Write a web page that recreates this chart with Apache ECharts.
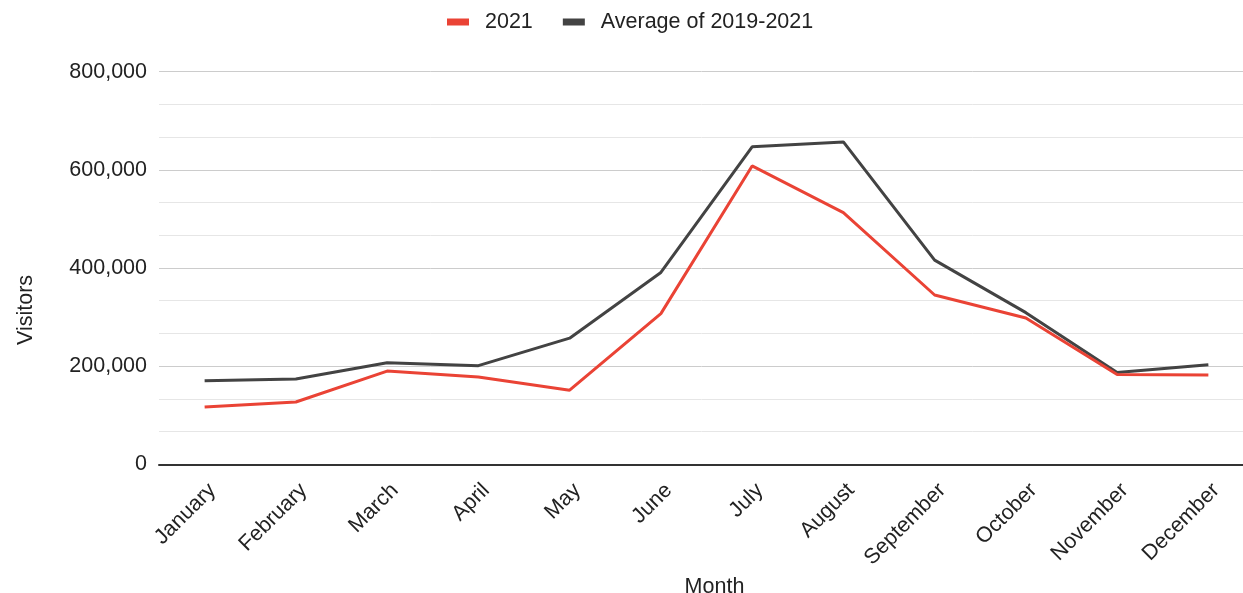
<!DOCTYPE html>
<html>
<head>
<meta charset="utf-8">
<script src="https://cdn.jsdelivr.net/npm/echarts@6/dist/echarts.min.js"></script>
<style>
  html, body { margin: 0; padding: 0; background: #fff; }
  #chart { width: 1243px; height: 593px; }
</style>
</head>
<body>
<div id="chart"></div>
<script>
// Monthly visitor counts
const months = ['January', 'February', 'March', 'April', 'May', 'June',
  'July', 'August', 'September', 'October', 'November', 'December'];
const visitors2021 = [117000, 127000, 190000, 178000, 151000, 307000,
  608000, 513000, 345000, 298000, 183000, 182000];
const visitorsAvg = [170000, 174000, 207000, 201000, 257000, 391000,
  647000, 657000, 416000, 309000, 187000, 203000];
const seriesNames = ['2021', 'Average of 2019-2021'];
const yTicks = { min: 0, max: 800000, interval: 200000 };

const FONT = 'Liberation Sans, Arial, sans-serif';
const FS = 21.5;

const chart = echarts.init(document.getElementById('chart'), null, { renderer: 'canvas' });

chart.setOption({
  animation: false,
  color: ['#ea4335', '#434343'],
  textStyle: { fontFamily: FONT },
  legend: {
    left: 447,
    top: 11,
    padding: 0,
    itemWidth: 22,
    itemHeight: 7,
    itemGap: 30,
    icon: 'rect',
    textStyle: { fontSize: FS, color: '#222', fontFamily: FONT, padding: [0, 0, 0, 11] },
    data: seriesNames
  },
  grid: {
    left: 159, top: 71.7, width: 1095, bottom: 128.7,
    containLabel: false, outerBoundsMode: 'none'
  },
  xAxis: {
    type: 'category',
    data: months,
    boundaryGap: true,
    name: 'Month',
    nameLocation: 'middle',
    nameGap: 111,
    nameTextStyle: { fontSize: FS, color: '#222', fontFamily: FONT, padding: [0, 0, 0, 16] },
    axisLine: { show: true, lineStyle: { color: '#333', width: 2 } },
    axisTick: { show: false },
    axisLabel: {
      rotate: 45, fontSize: FS, color: '#222', fontFamily: FONT,
      margin: 15, interval: 0, verticalAlign: 'top'
    },
    splitLine: { show: false }
  },
  yAxis: {
    type: 'value',
    min: yTicks.min,
    max: yTicks.max,
    interval: yTicks.interval,
    axisLine: { show: false },
    axisTick: { show: false },
    axisLabel: {
      fontSize: FS, color: '#222', fontFamily: FONT, margin: 12,
      formatter: v => v.toLocaleString('en-US')
    },
    splitLine: { show: true, lineStyle: { color: '#cccccc', width: 1 } },
    minorTick: { show: false, splitNumber: 3 },
    minorSplitLine: { show: true, lineStyle: { color: '#e6e6e6', width: 1 } }
  },
  graphic: [{
    type: 'text',
    x: 26,
    y: 310,
    rotation: Math.PI / 2,
    style: {
      text: 'Visitors',
      fontSize: FS,
      fontFamily: FONT,
      fill: '#222',
      align: 'center',
      verticalAlign: 'middle'
    }
  }],
  series: [
    {
      name: seriesNames[0],
      type: 'line',
      data: visitors2021,
      showSymbol: false,
      symbol: 'none',
      lineStyle: { width: 3 },
      z: 3
    },
    {
      name: seriesNames[1],
      type: 'line',
      data: visitorsAvg,
      showSymbol: false,
      symbol: 'none',
      lineStyle: { width: 3 },
      z: 2
    }
  ]
});
</script>
</body>
</html>
